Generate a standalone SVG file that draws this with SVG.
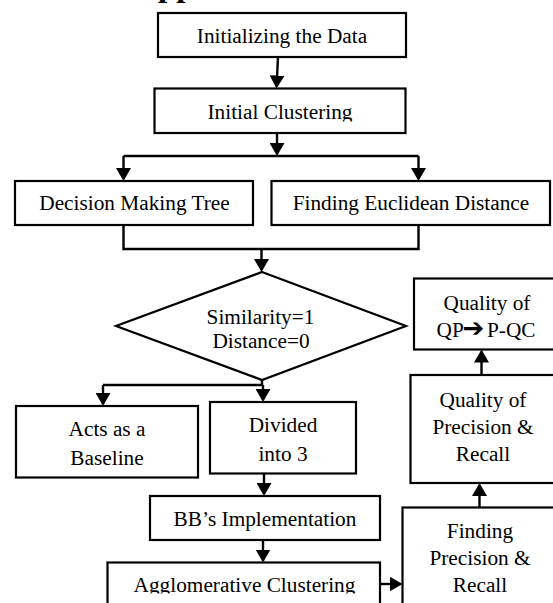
<svg xmlns="http://www.w3.org/2000/svg" width="553" height="603" viewBox="0 0 553 603">
<style>
.box{fill:#fff;stroke:#000;stroke-width:2.2}
.t{font-family:"Liberation Serif","Times New Roman",serif;font-size:21.3px;fill:#000;text-anchor:middle}
.c{fill:none;stroke:#000;stroke-width:2.4}
.a{marker-end:url(#ah)}
</style>
<defs>
<marker id="ah" viewBox="0 0 13 15" refX="11" refY="7.5" markerWidth="13" markerHeight="15" markerUnits="userSpaceOnUse" orient="auto">
<path d="M0,0 L13,7.5 L0,15 Z" fill="#000"/>
</marker>
<clipPath id="clipA"><rect x="0" y="0" width="553" height="121.5"/></clipPath>
<clipPath id="clipB"><rect x="0" y="0" width="553" height="593.5"/></clipPath>
</defs>
<rect width="553" height="603" fill="#fff"/>
<text x="158" y="-3.9" style="font-family:'Liberation Serif',serif;font-size:33px;font-weight:bold">pp</text>
<g id="connectors">
<path class="c a" d="M278,57 L276.6,86.5"/>
<path class="c a" d="M277,133 L277,154"/>
<path class="c" d="M123.5,156 L418.5,156"/>
<path class="c a" d="M123.5,156 L123.5,179"/>
<path class="c a" d="M418.5,156 L418.5,179"/>
<path class="c" d="M123.5,225 L123.5,249 L418.5,249 L418.5,225"/>
<path class="c a" d="M261.5,249 L261.5,270"/>
<path class="c" d="M262,380 L262,385 M103,385 L263,385"/>
<path class="c a" d="M103,385 L103,404"/>
<path class="c a" d="M263,385 L263,400"/>
<path class="c a" d="M264,473.5 L264,494"/>
<path class="c a" d="M263,540 L263,560.5"/>
<path class="c a" d="M380,584 L400.5,584"/>
<path class="c a" d="M479.5,507.5 L479.5,485"/>
<path class="c a" d="M481.5,375 L481.5,351.5"/>
</g>
<g id="n1"><rect class="box" x="158" y="13" width="248" height="44"/><text class="t" x="282" y="43">Initializing the Data</text></g>
<g id="n2"><rect class="box" x="154.5" y="88.5" width="251" height="44.5"/><text class="t" x="280" y="119.3" clip-path="url(#clipA)">Initial Clustering</text></g>
<g id="n3"><rect class="box" x="15" y="181" width="238" height="44"/><text class="t" x="134.5" y="210">Decision Making Tree</text></g>
<g id="n4"><rect class="box" x="271.5" y="181" width="278.5" height="44"/><text class="t" x="411" y="210">Finding Euclidean Distance</text></g>
<g id="n5"><polygon class="box" points="262,272 406,326 262,380 116,326"/><text class="t" x="260.5" y="324.3">Similarity=1</text><text class="t" x="261" y="348.3">Distance=0</text></g>
<g id="n6"><rect class="box" x="16" y="406" width="182" height="71.5"/><text class="t" x="107" y="436">Acts as a</text><text class="t" x="107" y="465">Baseline</text></g>
<g id="n7"><rect class="box" x="210" y="402" width="146" height="71.5"/><text class="t" x="283" y="432">Divided</text><text class="t" x="283" y="460.5">into 3</text></g>
<g id="n8"><rect class="box" x="150" y="496" width="230" height="44"/><text class="t" x="265" y="526">BB’s Implementation</text></g>
<g id="n9"><rect class="box" x="107.5" y="562.5" width="272.5" height="60"/><text class="t" x="244.5" y="591.7" clip-path="url(#clipB)">Agglomerative Clustering</text></g>
<g id="n10"><rect class="box" x="414" y="278.5" width="150" height="71"/><text class="t" x="487" y="310">Quality of</text><text class="t" x="487" y="337.3" style="text-anchor:start"><tspan x="436.5">QP</tspan><tspan x="462.5" style="font-family:'DejaVu Sans',sans-serif;font-size:26px">➔</tspan><tspan x="487">P-QC</tspan></text></g>
<g id="n11"><rect class="box" x="410.5" y="375" width="150" height="108"/><text class="t" x="483" y="406.7">Quality of</text><text class="t" x="483" y="434">Precision &amp;</text><text class="t" x="483" y="461.3">Recall</text></g>
<g id="n12"><rect class="box" x="402.5" y="507.5" width="160" height="110"/><text class="t" x="480" y="538">Finding</text><text class="t" x="480" y="565">Precision &amp;</text><text class="t" x="480" y="591.7">Recall</text></g>
</svg>
